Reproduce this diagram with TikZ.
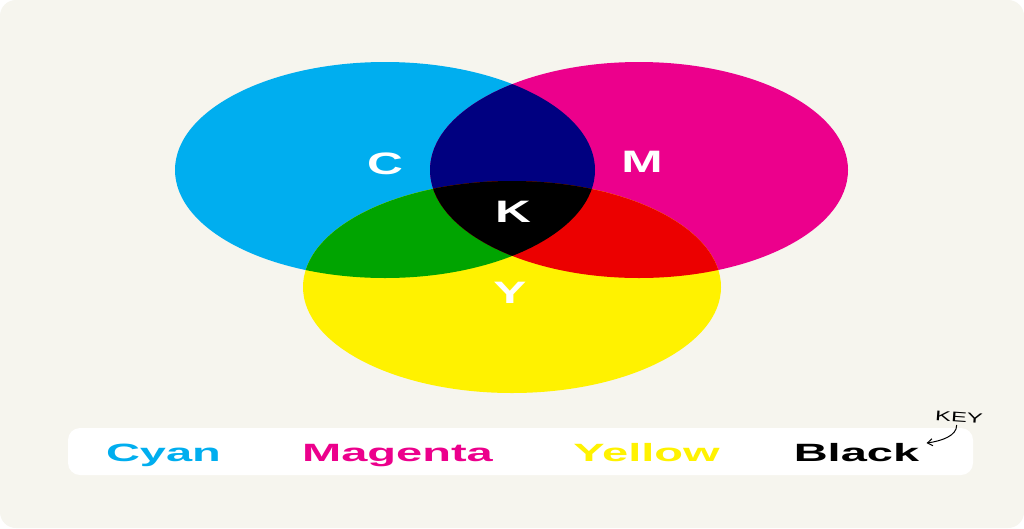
\documentclass[tikz,border=0pt]{standalone}
\usepackage{fontspec}
\setmainfont{Liberation Sans}
\usetikzlibrary{arrows.meta}
\definecolor{bgc}{HTML}{F6F5EE}
\definecolor{cyn}{HTML}{00AEEF}
\definecolor{mag}{HTML}{EC008C}
\definecolor{yel}{HTML}{FFF200}
\definecolor{grn}{HTML}{00A400}
\definecolor{rd}{HTML}{EC0000}
\definecolor{nvy}{HTML}{000080}
\tikzset{
  biglabel/.style={text=white,font=\fontsize{31}{31}\selectfont\bfseries,xscale=1.6,anchor=base,inner sep=0pt},
  legendtxt/.style={font=\fontsize{25}{25}\selectfont\bfseries,xscale=1.88,anchor=base,inner sep=0pt},
}
\begin{document}
\begin{tikzpicture}[x=1pt,y=-1pt]
\useasboundingbox (0,0) rectangle (1024,528);
\fill[white] (0,0) rectangle (1024,528);
\fill[bgc,rounded corners=16pt] (0,0) rectangle (1024,528);
% ellipses
\def\cyanE{(385,170) ellipse [x radius=210,y radius=108]}
\def\magE{(639,170) ellipse [x radius=209,y radius=108]}
\def\yelE{(512,287) ellipse [x radius=209,y radius=106]}
\fill[cyn] \cyanE;
\fill[mag] \magE;
\fill[yel] \yelE;
\begin{scope}
  \clip \cyanE;
  \fill[nvy] \magE;
  \fill[grn] \yelE;
  \clip \magE;
  \fill[black] \yelE;
\end{scope}
\begin{scope}
  \clip \magE;
  \begin{scope}
    \clip \yelE;
    \fill[rd] (300,0) rectangle (900,528);
    \clip \cyanE;
    \fill[black] (0,0) rectangle (1024,528);
  \end{scope}
\end{scope}
% labels
\node[biglabel] (c) at (385,174) {C};
\node[biglabel] (m) at (642,172) {M};
\node[biglabel] (k) at (513,222) {K};
\node[biglabel] (y) at (510,303) {Y};
% legend
\node[fill=white,rounded corners=12pt,minimum width=905pt,minimum height=47pt,inner sep=0pt] (box) at (520.5,451.5) {};
\node[legendtxt,text=cyn] (cyan) at (163.5,461) {Cyan};
\node[legendtxt,text=mag] (magenta) at (397.5,461) {Magenta};
\node[legendtxt,text=yel] (yellow) at (646.5,461) {Yellow};
\node[legendtxt,text=black] (blackt) at (856.5,461) {Black};
\node[font=\fontsize{14}{14}\selectfont,rotate=-4,inner sep=0pt,xscale=1.7] (key) at (959,417) {KEY};
\draw[-{Straight Barb[length=5pt,width=7pt]},line width=1pt] (key.south)++(-2,3) coordinate (ks) (ks) .. controls (957,436) and (941,441) .. ([xshift=7pt,yshift=9pt]blackt.east);
\end{tikzpicture}
\end{document}
